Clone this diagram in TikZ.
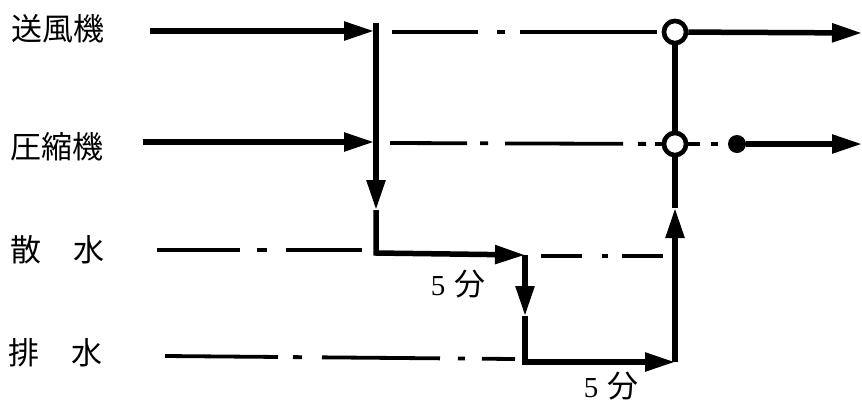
\documentclass[tikz,border=0pt]{standalone}
\usepackage{fontspec}
\newfontfamily\jp{Noto Sans CJK JP}
\newfontfamily\dig{Liberation Serif}
\usetikzlibrary{arrows.meta}
\begin{document}
\begin{tikzpicture}[x=1pt,y=-1pt,
  main/.style={line width=5.5pt},
  arr/.style={main,-{Triangle[length=30pt,width=18pt]}},
  dd/.style={line width=3.8pt},
  lab/.style={font=\jp\fontsize{31}{31}\selectfont, anchor=west, inner sep=0pt},
  tlab/.style={font=\jp\fontsize{31}{31}\selectfont, inner sep=0pt, anchor=base, text depth=0pt},
  ring/.style={circle, draw, line width=4.5pt, fill=white, minimum size=22pt, inner sep=0pt},
  blob/.style={circle, fill, minimum size=18pt, inner sep=0pt}]
\useasboundingbox (0,0) rectangle (862,405);

% labels
\node[lab] (L1) at (11,29) {送風機};
\node[lab] (L2) at (10,147) {圧縮機};
\node[lab] (L3) at (10,250) {散\hspace{1.05em}水};
\node[lab] (L4) at (8,353) {排\hspace{1.05em}水};

% coordinates
\coordinate (a1) at (150,31);
\coordinate (j1) at (374,31);
\coordinate (a2) at (143,142);
\coordinate (j2) at (374,142);
\coordinate (v1t) at (376,23);
\coordinate (v1m) at (376,210);
\coordinate (k1) at (376,253);
\coordinate (k2) at (525,255);
\coordinate (v2m) at (525,316);
\coordinate (k3) at (525,362);
\coordinate (k4) at (675,362);
\coordinate (v3m) at (675,208);
\coordinate (e1) at (862,33);
\coordinate (e2) at (862,144);

% circles
\node[ring] (c1) at (675,32) {};
\node[ring] (c2) at (675,144) {};
\node[blob] (b2) at (737,144) {};

% dash-dot timelines
\coordinate (d1s) at (392,32);
\coordinate (d1e) at (657,32);
\coordinate (d2s) at (390,143);
\coordinate (d3s) at (157,250);
\coordinate (d3e) at (362,250);
\coordinate (d3r) at (541,256);
\coordinate (d3f) at (663,256);
\coordinate (d4s) at (165,356);
\coordinate (d4e) at (515,359);

\draw[dd, dash pattern=on 86pt off 19pt on 8pt off 15pt on 300pt off 10pt] (d1s) -- (d1e);
\draw[dd, dash pattern=on 77pt off 13pt on 8pt off 17pt on 118pt off 15pt on 8pt off 9pt on 300pt off 10pt] (d2s) -- (c2);
\draw[dd, dash pattern=on 12pt off 11pt on 7pt off 60pt] (c2) -- (b2);
\draw[dd, dash pattern=on 83pt off 17pt on 10pt off 19pt on 200pt off 10pt] (d3s) -- (d3e);
\draw[dd, dash pattern=on 41pt off 20pt on 6pt off 14pt on 200pt off 10pt] (d3r) -- (d3f);
\draw[dd, dash pattern=on 113pt off 15pt on 9pt off 20pt on 118pt off 18pt on 7pt off 17pt on 100pt off 10pt] (d4s) -- (d4e);

% solid flow
\draw[arr] (a1) -- (j1);
\draw[arr] (a2) -- (j2);
\draw[arr] (v1t) -- (v1m);
\draw[arr] (v1m) -- (k1) -- (k2);
\draw[arr] (k2) -- (v2m);
\draw[arr] (v2m) -- (k3) -- (k4);
\draw[arr] (k4) -- (v3m);
\draw[main] (v3m) -- (c2);
\draw[main] (c2) -- (c1);
\draw[arr] (c1) -- (e1);
\draw[arr] (b2) -- (e2);

% redraw circles on top
\node[ring] at (c1) {};
\node[ring] at (c2) {};

% time labels
\node[tlab] (t1) at (458,295) {{\dig\fontsize{29}{29}\selectfont 5}\hspace{9pt}分};
\node[tlab] (t2) at (611,397) {{\dig\fontsize{29}{29}\selectfont 5}\hspace{9pt}分};
\end{tikzpicture}
\end{document}
